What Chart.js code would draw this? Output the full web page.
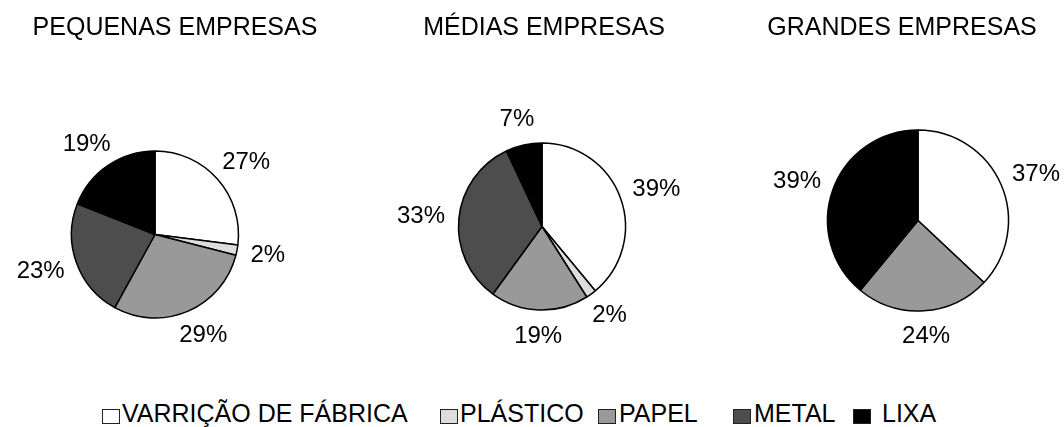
<!DOCTYPE html>
<html>
<head>
<meta charset="utf-8">
<script src="https://cdn.jsdelivr.net/npm/chart.js@4.4.0/dist/chart.umd.min.js"></script>
<style>
body{margin:0;width:1064px;height:427px;overflow:hidden;background:#fff;position:relative;font-family:"Liberation Sans",Arial,sans-serif;color:#000}
canvas{position:absolute;top:0}
.title{position:absolute;top:14px;width:400px;text-align:center;font-size:25px;line-height:25px;white-space:nowrap}
.lbox{position:absolute;top:409px;width:16px;height:13px;border:1px solid #222}
.ltxt{position:absolute;top:401px;font-size:25px;line-height:25px;white-space:nowrap}
</style>
</head>
<body>
<canvas id="c0" width="340" height="370"></canvas>
<canvas id="c1" width="340" height="370"></canvas>
<canvas id="c2" width="340" height="370"></canvas>
<script>
// dados
const categories = ["VARRIÇÃO DE FÁBRICA", "PLÁSTICO", "PAPEL", "METAL", "LIXA"];
const titles = ["PEQUENAS EMPRESAS", "MÉDIAS EMPRESAS", "GRANDES EMPRESAS"];
const pequenas = [27, 2, 29, 23, 19];
const medias = [39, 2, 19, 33, 7];
const grandes = [37, 0, 24, 0, 39];
const colors = ["#ffffff", "#dddddd", "#999999", "#4d4d4d", "#000000"];

// posição de cada pizza na página
const pies = [
  { data: pequenas, cx: 155, cy: 234.5, r: 83.5, titleX: 175 },
  { data: medias, cx: 542, cy: 226.5, r: 83.5, titleX: 544 },
  { data: grandes, cx: 918, cy: 220.5, r: 90.5, titleX: 902 },
];
const legendX = [102, 440, 598, 733, 853];
const legendGap = [2, 2, 3, 3, 11];
const bw = 1.5;
const W = 340, H = 370;

// rótulos de porcentagem fora da pizza
const outsideLabels = {
  id: "outsideLabels",
  afterDatasetsDraw(chart) {
    const ctx = chart.ctx;
    const meta = chart.getDatasetMeta(0);
    const values = chart.data.datasets[0].data;
    ctx.save();
    ctx.font = '24px "Liberation Sans", Arial, sans-serif';
    ctx.fillStyle = "#000";
    ctx.textAlign = "center";
    ctx.textBaseline = "middle";
    meta.data.forEach((arc, i) => {
      if (!values[i]) return;
      const p = arc.getProps(["x", "y", "startAngle", "endAngle", "outerRadius"], true);
      const mid = (p.startAngle + p.endAngle) / 2;
      const dx = Math.cos(mid), dy = Math.sin(mid);
      const txt = values[i] + "%";
      const w = ctx.measureText(txt).width;
      const R = p.outerRadius + 14;
      const x = p.x + dx * R + dx * w / 2;
      const y = p.y + dy * R + dy * 12;
      ctx.fillText(txt, x, y);
    });
    ctx.restore();
  },
};

pies.forEach((pie, k) => {
  const canvas = document.getElementById("c" + k);
  canvas.style.left = (pie.cx - W / 2) + "px";
  const side = 170 - pie.r - bw / 2;
  new Chart(canvas, {
    type: "pie",
    data: {
      labels: categories,
      datasets: [{
        data: pie.data,
        backgroundColor: colors,
        borderColor: "#000",
        borderWidth: bw,
        hoverOffset: 0,
      }],
    },
    options: {
      responsive: false,
      animation: false,
      events: [],
      layout: {
        padding: {
          left: side,
          right: side,
          top: pie.cy - pie.r - bw / 2,
          bottom: H - pie.cy - pie.r - bw / 2,
        },
      },
      plugins: {
        legend: { display: false },
        tooltip: { enabled: false },
        title: { display: false },
      },
    },
    plugins: [outsideLabels],
  });

  const t = document.createElement("div");
  t.className = "title";
  t.style.left = (pie.titleX - 200) + "px";
  t.textContent = titles[k];
  document.body.appendChild(t);
});

// legenda comum
categories.forEach((name, i) => {
  const box = document.createElement("div");
  box.className = "lbox";
  box.style.left = legendX[i] + "px";
  box.style.background = colors[i];
  document.body.appendChild(box);
  const txt = document.createElement("div");
  txt.className = "ltxt";
  txt.style.left = (legendX[i] + 18 + legendGap[i]) + "px";
  txt.textContent = name;
  document.body.appendChild(txt);
});
</script>
</body>
</html>
